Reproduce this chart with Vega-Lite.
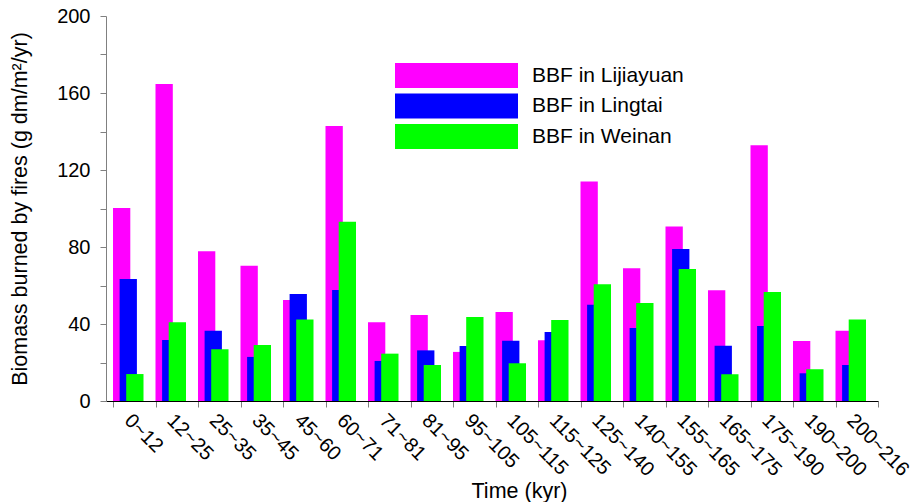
{
  "$schema": "https://vega.github.io/schema/vega-lite/v6.json",
  "width": 772,
  "height": 385,
  "autosize": "none",
  "padding": {"left": 106, "top": 16, "right": 37, "bottom": 101},
  "background": "white",
  "config": {
    "view": {"stroke": null},
    "font": "Liberation Sans",
    "axis": {"grid": false, "labelFont": "Liberation Sans", "titleFont": "Liberation Sans", "labelColor": "black", "titleColor": "black", "titleFontWeight": "normal"},
    "legend": {"labelFont": "Liberation Sans"}
  },
  "data": {"values": [
    {"t": "0~12", "site": "BBF in Lijiayuan", "v": 100.3},
    {"t": "12~25", "site": "BBF in Lijiayuan", "v": 164.7},
    {"t": "25~35", "site": "BBF in Lijiayuan", "v": 77.8},
    {"t": "35~45", "site": "BBF in Lijiayuan", "v": 70.3},
    {"t": "45~60", "site": "BBF in Lijiayuan", "v": 52.5},
    {"t": "60~71", "site": "BBF in Lijiayuan", "v": 142.9},
    {"t": "71~81", "site": "BBF in Lijiayuan", "v": 40.9},
    {"t": "81~95", "site": "BBF in Lijiayuan", "v": 44.7},
    {"t": "95~105", "site": "BBF in Lijiayuan", "v": 25.5},
    {"t": "105~115", "site": "BBF in Lijiayuan", "v": 46.2},
    {"t": "115~125", "site": "BBF in Lijiayuan", "v": 31.5},
    {"t": "125~140", "site": "BBF in Lijiayuan", "v": 114.0},
    {"t": "140~155", "site": "BBF in Lijiayuan", "v": 68.9},
    {"t": "155~165", "site": "BBF in Lijiayuan", "v": 90.7},
    {"t": "165~175", "site": "BBF in Lijiayuan", "v": 57.5},
    {"t": "175~190", "site": "BBF in Lijiayuan", "v": 132.8},
    {"t": "190~200", "site": "BBF in Lijiayuan", "v": 31.2},
    {"t": "200~216", "site": "BBF in Lijiayuan", "v": 36.5},
    {"t": "0~12", "site": "BBF in Lingtai", "v": 63.4},
    {"t": "12~25", "site": "BBF in Lingtai", "v": 31.7},
    {"t": "25~35", "site": "BBF in Lingtai", "v": 36.5},
    {"t": "35~45", "site": "BBF in Lingtai", "v": 22.9},
    {"t": "45~60", "site": "BBF in Lingtai", "v": 55.6},
    {"t": "60~71", "site": "BBF in Lingtai", "v": 57.7},
    {"t": "71~81", "site": "BBF in Lingtai", "v": 20.8},
    {"t": "81~95", "site": "BBF in Lingtai", "v": 26.3},
    {"t": "95~105", "site": "BBF in Lingtai", "v": 28.6},
    {"t": "105~115", "site": "BBF in Lingtai", "v": 31.3},
    {"t": "115~125", "site": "BBF in Lingtai", "v": 35.8},
    {"t": "125~140", "site": "BBF in Lingtai", "v": 50.0},
    {"t": "140~155", "site": "BBF in Lingtai", "v": 37.9},
    {"t": "155~165", "site": "BBF in Lingtai", "v": 79.0},
    {"t": "165~175", "site": "BBF in Lingtai", "v": 28.7},
    {"t": "175~190", "site": "BBF in Lingtai", "v": 39.0},
    {"t": "190~200", "site": "BBF in Lingtai", "v": 14.4},
    {"t": "200~216", "site": "BBF in Lingtai", "v": 18.7},
    {"t": "0~12", "site": "BBF in Weinan", "v": 14.0},
    {"t": "12~25", "site": "BBF in Weinan", "v": 40.9},
    {"t": "25~35", "site": "BBF in Weinan", "v": 26.9},
    {"t": "35~45", "site": "BBF in Weinan", "v": 29.1},
    {"t": "45~60", "site": "BBF in Weinan", "v": 42.4},
    {"t": "60~71", "site": "BBF in Weinan", "v": 93.1},
    {"t": "71~81", "site": "BBF in Weinan", "v": 24.6},
    {"t": "81~95", "site": "BBF in Weinan", "v": 18.7},
    {"t": "95~105", "site": "BBF in Weinan", "v": 43.6},
    {"t": "105~115", "site": "BBF in Weinan", "v": 19.6},
    {"t": "115~125", "site": "BBF in Weinan", "v": 42.1},
    {"t": "125~140", "site": "BBF in Weinan", "v": 60.6},
    {"t": "140~155", "site": "BBF in Weinan", "v": 50.9},
    {"t": "155~165", "site": "BBF in Weinan", "v": 68.6},
    {"t": "165~175", "site": "BBF in Weinan", "v": 13.9},
    {"t": "175~190", "site": "BBF in Weinan", "v": 56.6},
    {"t": "190~200", "site": "BBF in Weinan", "v": 16.5},
    {"t": "200~216", "site": "BBF in Weinan", "v": 42.4}
  ]},
  "mark": {"type": "bar", "width": 17.3},
  "encoding": {
    "x": {
      "field": "t", "type": "ordinal", "sort": null,
      "scale": {"paddingInner": 0, "paddingOuter": 0.0824, "align": 1},
      "axis": {
        "title": "Time (kyr)", "titleFontSize": 21.5, "titleX": 413, "titleY": 96, "titleAlign": "center", "titleBaseline": "alphabetic",
        "labelAngle": 45, "labelAlign": "left", "labelBaseline": "top", "labelFontSize": 20, "labelPadding": 3,
        "tickBand": "extent", "tickSize": 6, "tickColor": "#808080", "domainColor": "black", "labelOverlap": false
      }
    },
    "xOffset": {
      "field": "site", "type": "nominal",
      "scale": {"type": "point", "range": [8.65, 21.85], "padding": 0}
    },
    "y": {
      "field": "v", "type": "quantitative",
      "scale": {"domain": [0, 200], "nice": false},
      "axis": {
        "title": "Biomass burned by fires (g dm/m²/yr)", "titleFontSize": 21.5, "titlePadding": 25,
        "values": [0, 20, 40, 60, 80, 100, 120, 140, 160, 180, 200],
        "labelExpr": "datum.value % 40 === 0 ? datum.label : ''",
        "labelFontSize": 20, "labelPadding": 10, "tickSize": 6, "tickColor": "#808080", "domainColor": "#808080"
      }
    },
    "color": {
      "field": "site", "type": "nominal",
      "scale": {"domain": ["BBF in Lijiayuan", "BBF in Lingtai", "BBF in Weinan"], "range": ["#ff00ff", "#0000ff", "#00ff00"]},
      "legend": {
        "title": null, "orient": "none", "legendX": 338, "legendY": 47, "padding": 0,
        "symbolType": "M-4.92,-1H4.92V1H-4.92Z", "symbolSize": 625, "symbolStrokeWidth": 0, "symbolOpacity": 1,
        "labelFontSize": 21, "labelOffset": 63, "labelColor": "black", "rowPadding": 5.5
      }
    }
  }
}
